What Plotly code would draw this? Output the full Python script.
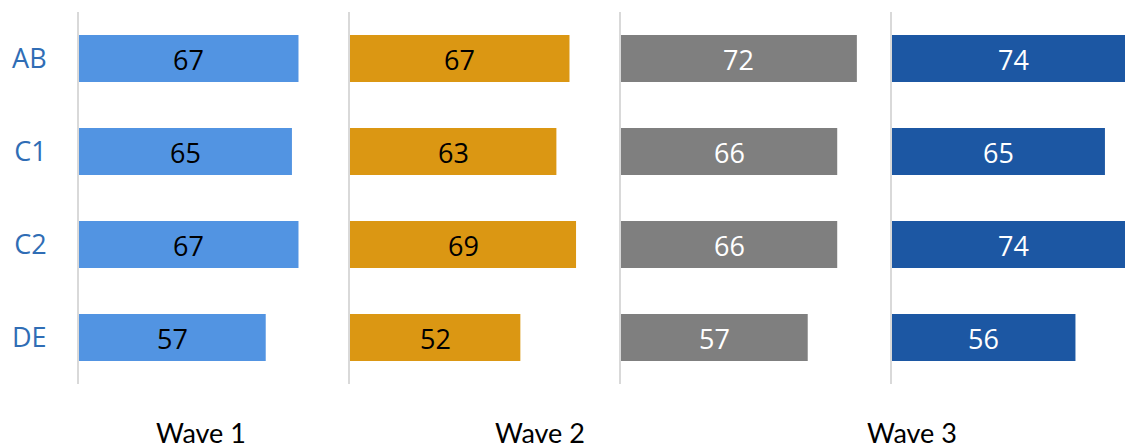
import plotly.graph_objects as go

categories = ["AB", "C1", "C2", "DE"]
panel1 = [67, 65, 67, 57]
panel2 = [67, 63, 69, 52]
panel3 = [72, 66, 66, 57]
panel4 = [74, 65, 74, 56]
wave_labels = ["Wave 1", "Wave 2", "Wave 3"]

series = [panel1, panel2, panel3, panel4]
bar_colors = ["#5294E2", "#DB9713", "#7F7F7F", "#1C57A3"]
text_colors = ["#000000", "#000000", "#FFFFFF", "#FFFFFF"]

W, H = 1125, 448
px_per_unit = 3.276
panel_left = [79, 350, 621, 892]
panel_width = 271
y_top, y_bot = 12, 384

fig = go.Figure()
layout = dict(
    width=W, height=H, margin=dict(l=0, r=0, t=0, b=0),
    paper_bgcolor="white", plot_bgcolor="white", showlegend=False,
)

for i, vals in enumerate(series):
    sfx = "" if i == 0 else str(i + 1)
    xa, ya = "x" + sfx, "y" + sfx
    fig.add_trace(go.Bar(
        x=vals, y=categories, orientation="h", xaxis=xa, yaxis=ya,
        marker=dict(color=bar_colors[i], line=dict(width=0)),
        width=0.505, hoverinfo="skip",
    ))
    for v, c in zip(vals, categories):
        fig.add_annotation(
            x=v / 2, y=c, xref=xa, yref=ya, text=str(v), showarrow=False,
            xanchor="center", yanchor="middle", yshift=-1,
            font=dict(family="Open Sans", size=27, color=text_colors[i]),
        )
    left = panel_left[i]
    right = min(left + panel_width, W)
    xr = (right - left) / px_per_unit
    layout["xaxis" + sfx] = dict(
        domain=[left / W, right / W], range=[0, xr], anchor=ya,
        showgrid=False, zeroline=False, showticklabels=False, showline=False,
        fixedrange=True,
    )
    layout["yaxis" + sfx] = dict(
        domain=[1 - y_bot / H, 1 - y_top / H], anchor=xa,
        categoryorder="array", categoryarray=categories, autorange="reversed",
        showgrid=False, zeroline=False, showline=True, linecolor="#D9D9D9",
        linewidth=2, ticks="", showticklabels=(i == 0), ticklabelstandoff=25,
        tickfont=dict(family="Open Sans", size=27, color="#2F6DB5"),
        fixedrange=True,
    )

fig.update_layout(**layout)

wave_x = [201, 540, 912]
for lab, xp in zip(wave_labels, wave_x):
    fig.add_annotation(
        text=lab, x=xp / W, y=1 - 432 / H, xref="paper", yref="paper",
        xanchor="center", yanchor="middle", showarrow=False,
        font=dict(family="Lato", size=27, color="#000000"),
        height=30, valign="middle",
    )

fig.write_html("out.html")
